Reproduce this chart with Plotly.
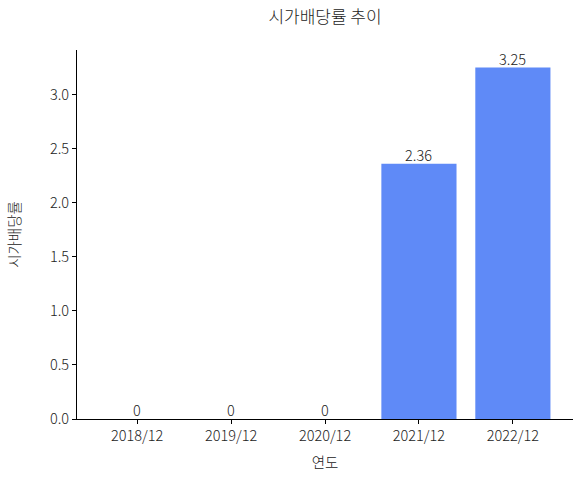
import plotly.graph_objects as go

years = ["2018/12", "2019/12", "2020/12", "2021/12", "2022/12"]
yield_rate = [0, 0, 0, 2.36, 3.25]
labels = ["0", "0", "0", "2.36", "3.25"]

font = "Noto Sans CJK KR, Noto Sans, sans-serif"

x_pos = list(range(len(years)))

fig = go.Figure(
    go.Bar(
        x=x_pos,
        y=yield_rate,
        marker=dict(color="#5f8af7", line=dict(width=0)),
        width=0.8,
    )
)

# value labels sitting right on top of each bar
for xp, v, lab in zip(x_pos, yield_rate, labels):
    fig.add_annotation(x=xp, y=v, text=lab, showarrow=False,
                       yanchor="bottom", yshift=-3,
                       font=dict(size=14.5, color="#222", weight=300))

fig.update_layout(
    width=582,
    height=479,
    margin=dict(l=77, r=9, t=50, b=60),
    paper_bgcolor="white",
    plot_bgcolor="white",
    font=dict(family=font, size=14, color="#222", weight=300),
    title=dict(text="시가배당률 추이", x=0.5, xref="paper", xanchor="center",
               yref="container", y=1 - 17 / 479, yanchor="middle",
               font=dict(size=17, weight=300)),
    showlegend=False,
)
fig.update_xaxes(
    tickmode="array",
    tickvals=x_pos,
    ticktext=years,
    range=[-0.64, 4.64],
    automargin=False,
    showline=True, linecolor="black", linewidth=1,
    ticks="outside", ticklen=4, tickcolor="black",
    tickfont=dict(size=14.5, weight=300),
    showgrid=False, zeroline=False,
    title=dict(text="연도", standoff=13, font=dict(size=14.5, weight=300)),
)
fig.update_yaxes(
    range=[0, 3.4125],
    tickvals=[0, 0.5, 1.0, 1.5, 2.0, 2.5, 3.0],
    tickformat=".1f",
    automargin=False,
    showline=True, linecolor="black", linewidth=1,
    ticks="outside", ticklen=4, tickcolor="black",
    tickfont=dict(size=14.5, weight=300),
    showgrid=False, zeroline=False,
    title=dict(text="시가배당률", standoff=25, font=dict(size=14.5, weight=300)),
)

# drop the default body margin so the figure fills the window exactly
fig.write_html("out.html", config={"displayModeBar": False},
               post_script="document.body.style.margin='0';")
